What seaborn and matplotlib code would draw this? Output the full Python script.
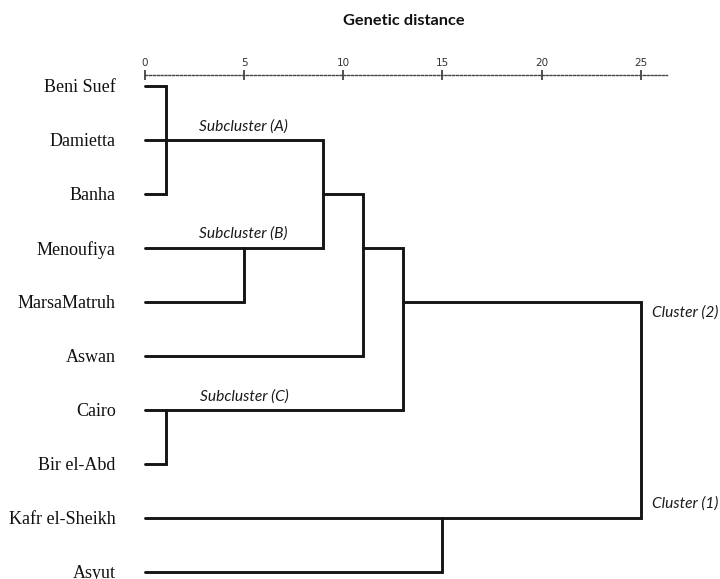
"""
Dendrogram of genetic distance between Egyptian locations
"""

import pandas as pd
import numpy as np
import matplotlib.pyplot as plt
import seaborn as sns

"""
Data
"""
leaves = ['Beni Suef', 'Damietta', 'Banha', 'Menoufiya', 'MarsaMatruh',
          'Aswan', 'Cairo', 'Bir el-Abd', 'Kafr el-Sheikh', 'Asyut']

# merges: node ids 0-9 are leaves, 10+ are merges in this order
merge_children = [[0, 1, 2], [3, 4], [10, 11], [12, 5], [6, 7], [13, 14], [8, 9], [15, 16]]
merge_dist = [1.05, 5.0, 9.0, 11.0, 1.05, 13.0, 15.0, 25.0]
merge_row = [1, 3, 2, 3, 6, 4, 8, 4]

scale_ticks = [0, 5, 10, 15, 20, 25]

cluster_labels = ['Subcluster (A)', 'Subcluster (B)', 'Subcluster (C)', 'Cluster (2)', 'Cluster (1)']


"""
Build segments
"""


def build_segments():
    node_row = {i: i for i in range(len(leaves))}
    node_dist = {i: 0.0 for i in range(len(leaves))}
    rows = []
    seg = 0
    for k, (kids, d, out) in enumerate(zip(merge_children, merge_dist, merge_row)):
        kids = sorted(kids, key=lambda n: node_row[n])
        first, last = kids[0], kids[-1]
        # outer children joined through the vertical bar as one polyline
        pts = [(node_dist[first], node_row[first]), (d, node_row[first]),
               (d, node_row[last]), (node_dist[last], node_row[last])]
        for x, y in pts:
            rows.append({'x': x, 'y': y, 'seg': seg})
        seg += 1
        for mid in kids[1:-1]:
            for x in (node_dist[mid], d):
                rows.append({'x': x, 'y': node_row[mid], 'seg': seg})
            seg += 1
        node_row[len(leaves) + k] = out
        node_dist[len(leaves) + k] = d
    return pd.DataFrame(rows)


"""
Plot
"""
W, H = 720, 579
X0, PX_UNIT = 145, 19.83
ROW0, PX_ROW = 86, 54


def main():
    sns.set_theme(style='white')
    segs = build_segments()

    fig = plt.figure(figsize=(W / 100, H / 100), dpi=100)
    ax = fig.add_axes([X0 / W, 0, (W - X0) / W, 1])
    sns.lineplot(data=segs, x='x', y='y', units='seg', estimator=None, sort=False,
                 color='#151515', lw=2.1, ax=ax, legend=False)
    for line in ax.lines:
        line.set_solid_joinstyle('miter')
        line.set_clip_on(False)

    ax.set_xlim(0, (W - X0) / PX_UNIT)
    ax.set_ylim((H - ROW0) / PX_ROW, -ROW0 / PX_ROW)
    ax.set_xlabel('')
    ax.set_ylabel('')
    ax.set_xticks([])
    ax.set_yticks(range(len(leaves)), leaves, family='Liberation Serif', fontsize=13, color='#111')
    ax.tick_params(axis='y', length=0, pad=21)
    sns.despine(ax=ax, left=True, bottom=True)

    lab_style = dict(family='Lato', style='italic', fontsize=11.2, color='#1a1a1a', va='center')
    ax.text(2.72, 0.76, cluster_labels[0], **lab_style)
    ax.text(2.72, 2.74, cluster_labels[1], **lab_style)
    ax.text(2.77, 5.76, cluster_labels[2], **lab_style)
    ax.text(25.55, 4.19, cluster_labels[3], clip_on=False, **lab_style)
    ax.text(25.55, 7.74, cluster_labels[4], clip_on=False, **lab_style)

    # distance scale across the top
    axis_y = 74.6
    sax = fig.add_axes([X0 / W, 1 - axis_y / H, 26.3 * PX_UNIT / W, 1e-5])
    sax.set_xlim(0, 26.3)
    sax.set_yticks([])
    sax.patch.set_alpha(0)
    for side in ['top', 'left', 'right']:
        sax.spines[side].set_visible(False)
    sax.spines['bottom'].set_linestyle((0, (1.5, 1.3)))
    sax.spines['bottom'].set_linewidth(1.0)
    sax.spines['bottom'].set_color('#444')
    sax.set_xticks(scale_ticks, [str(t) for t in scale_ticks])
    sax.tick_params(axis='x', direction='inout', length=7, width=1.2, color='#333',
                    bottom=True, top=False, labelbottom=False, labeltop=True,
                    labelsize=7.5, labelcolor='#333', pad=1)

    fig.text(404 / W, 1 - 21 / H, 'Genetic distance', family='Lato', weight='bold',
             fontsize=11.8, ha='center', va='center', color='#111')

    fig.savefig('out.png', dpi=100)
    plt.close(fig)


if __name__ == '__main__':
    main()
